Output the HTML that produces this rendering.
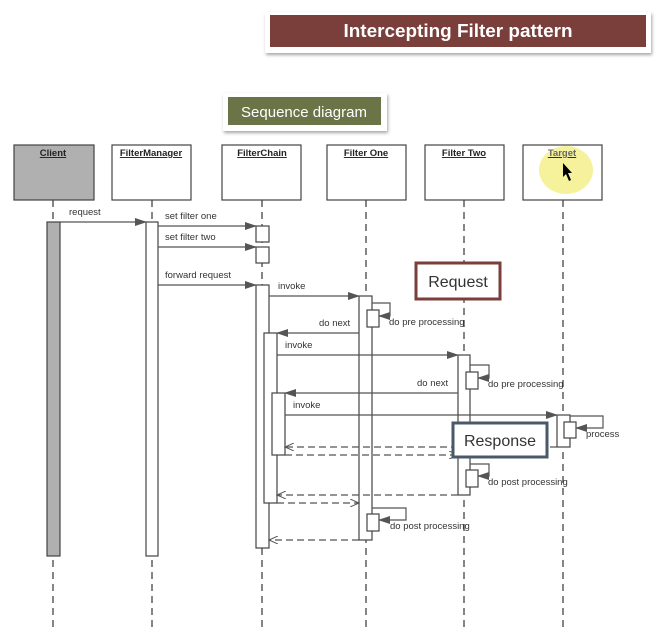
<!DOCTYPE html>
<html><head><meta charset="utf-8"><style>
html,body{margin:0;padding:0;background:#fff;width:664px;height:640px;overflow:hidden}
svg text{font-family:"Liberation Sans",sans-serif}
</style></head><body>
<svg width="664" height="640" viewBox="0 0 664 640" xmlns="http://www.w3.org/2000/svg">
<defs>
<marker id="f" markerWidth="12" markerHeight="8" refX="11" refY="4" orient="auto" markerUnits="userSpaceOnUse"><path d="M0,0 L12,4 L0,8 z" fill="#555"/></marker>
<marker id="o" markerWidth="10" markerHeight="8" refX="9" refY="4" orient="auto" markerUnits="userSpaceOnUse"><path d="M0,0 L9,4 L0,8" fill="none" stroke="#555" stroke-width="1"/></marker>
<filter id="sh" x="-10%" y="-20%" width="120%" height="150%"><feDropShadow dx="1" dy="2" stdDeviation="1.5" flood-color="#000" flood-opacity="0.35"/></filter>
</defs>
<rect x="265" y="12" width="386" height="41" fill="#fff" filter="url(#sh)"/>
<rect x="270" y="15" width="376" height="32" fill="#7a3f3b"/>
<text x="458" y="37" font-size="18" font-weight="bold" fill="#fff" text-anchor="middle" textLength="229" lengthAdjust="spacingAndGlyphs">Intercepting Filter pattern</text>
<rect x="223" y="93" width="164" height="38" fill="#fff" filter="url(#sh)"/>
<rect x="228" y="97" width="153" height="28" fill="#6b7447"/>
<text x="304" y="117" font-size="15" fill="#fff" text-anchor="middle">Sequence diagram</text>
<g stroke="#444" stroke-width="1.3" stroke-dasharray="7,5">
<line x1="53" y1="200" x2="53" y2="628"/><line x1="152" y1="200" x2="152" y2="628"/>
<line x1="262" y1="200" x2="262" y2="628"/><line x1="366" y1="200" x2="366" y2="628"/>
<line x1="464" y1="200" x2="464" y2="628"/><line x1="563" y1="200" x2="563" y2="628"/>
</g>
<g stroke="#444" stroke-width="1.2">
<rect x="14" y="145" width="80" height="55" fill="#b0b0b0"/>
<rect x="112" y="145" width="79" height="55" fill="#fff"/>
<rect x="222" y="145" width="79" height="55" fill="#fff"/>
<rect x="327" y="145" width="79" height="55" fill="#fff"/>
<rect x="425" y="145" width="79" height="55" fill="#fff"/>
<rect x="523" y="145" width="79" height="55" fill="#fff"/>
</g>
<ellipse cx="566" cy="170" rx="27" ry="24" fill="#f3f08a" opacity="0.85"/>
<g font-size="9.5" font-weight="bold" text-anchor="middle" text-decoration="underline" fill="#222">
<text x="53" y="156">Client</text><text x="151" y="156">FilterManager</text><text x="262" y="156">FilterChain</text>
<text x="366" y="156">Filter One</text><text x="464" y="156">Filter Two</text><text x="562" y="156" fill="#666">Target</text>
</g>
<path d="M563,163 L563,177 L566,174 L569,181 L571,180 L568,173 L572,173 z" fill="#000"/>
<g stroke="#444" stroke-width="1.2">
<rect x="47" y="222" width="13" height="334" fill="#b0b0b0"/>
<rect x="146" y="222" width="12" height="334" fill="#fff"/>
<rect x="256" y="226" width="13" height="16" fill="#fff"/>
<rect x="256" y="247" width="13" height="16" fill="#fff"/>
<rect x="256" y="285" width="13" height="263" fill="#fff"/>
<rect x="359" y="296" width="13" height="244" fill="#fff"/>
<rect x="264" y="333" width="13" height="170" fill="#fff"/>
<rect x="458" y="355" width="12" height="140" fill="#fff"/>
<rect x="272" y="393" width="13" height="62" fill="#fff"/>
<rect x="557" y="415" width="13" height="32" fill="#fff"/>
<rect x="367" y="310" width="12" height="17" fill="#fff"/>
<rect x="466" y="372" width="12" height="17" fill="#fff"/>
<rect x="564" y="422" width="12" height="16" fill="#fff"/>
<rect x="466" y="470" width="12" height="17" fill="#fff"/>
<rect x="367" y="514" width="12" height="17" fill="#fff"/>
</g>
<g stroke="#555" stroke-width="1.2" fill="none">
<line x1="60" y1="222" x2="146" y2="222" marker-end="url(#f)"/>
<line x1="158" y1="226" x2="256" y2="226" marker-end="url(#f)"/>
<line x1="158" y1="247" x2="256" y2="247" marker-end="url(#f)"/>
<line x1="158" y1="285" x2="256" y2="285" marker-end="url(#f)"/>
<line x1="269" y1="296" x2="359" y2="296" marker-end="url(#f)"/>
<line x1="359" y1="333" x2="277" y2="333" marker-end="url(#f)"/>
<line x1="277" y1="355" x2="458" y2="355" marker-end="url(#f)"/>
<line x1="458" y1="393" x2="285" y2="393" marker-end="url(#f)"/>
<line x1="285" y1="415" x2="557" y2="415" marker-end="url(#f)"/>
<polyline points="372,303 390,303 390,316 379,316" marker-end="url(#f)"/>
<polyline points="470,365 489,365 489,378 478,378" marker-end="url(#f)"/>
<polyline points="570,416 603,416 603,428 576,428" marker-end="url(#f)"/>
<polyline points="470,464 489,464 489,476 478,476" marker-end="url(#f)"/>
<polyline points="372,508 406,508 406,520 379,520" marker-end="url(#f)"/>
<g stroke-dasharray="7,4">
<line x1="557" y1="447" x2="285" y2="447" marker-end="url(#o)"/>
<line x1="285" y1="455" x2="458" y2="455" marker-end="url(#o)"/>
<line x1="458" y1="495" x2="277" y2="495" marker-end="url(#o)"/>
<line x1="277" y1="503" x2="359" y2="503" marker-end="url(#o)"/>
<line x1="359" y1="540" x2="269" y2="540" marker-end="url(#o)"/>
</g>
</g>
<g font-size="9.5" fill="#333">
<text x="69" y="215">request</text>
<text x="165" y="219">set filter one</text>
<text x="165" y="240">set filter two</text>
<text x="165" y="278">forward request</text>
<text x="278" y="289">invoke</text>
<text x="319" y="326">do next</text>
<text x="389" y="325">do pre processing</text>
<text x="285" y="348">invoke</text>
<text x="417" y="386">do next</text>
<text x="488" y="387">do pre processing</text>
<text x="293" y="408">invoke</text>
<text x="586" y="437">process</text>
<text x="488" y="485">do post processing</text>
<text x="390" y="529">do post processing</text>
</g>
<rect x="416" y="263" width="84" height="36" fill="#fff" stroke="#7a3f3b" stroke-width="3"/>
<text x="458" y="287" font-size="16" fill="#333" text-anchor="middle">Request</text>
<rect x="453" y="423" width="94" height="34" fill="#fff" stroke="#4a5868" stroke-width="3"/>
<text x="500" y="446" font-size="16" fill="#333" text-anchor="middle">Response</text>
</svg>
</body></html>
